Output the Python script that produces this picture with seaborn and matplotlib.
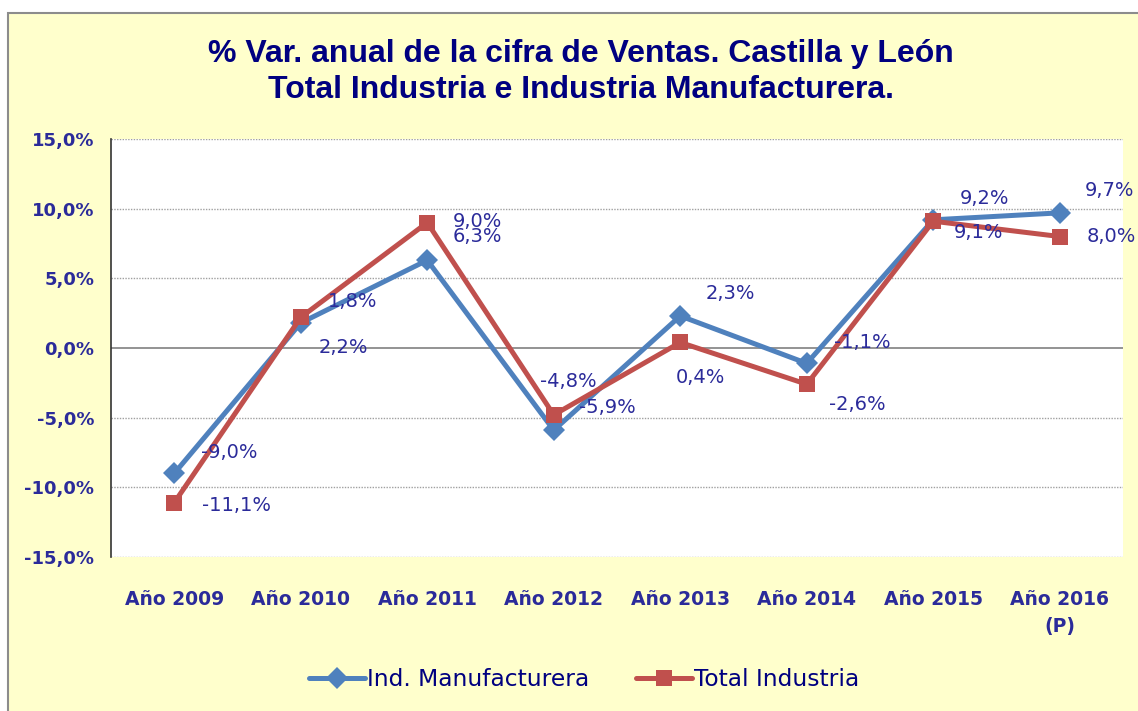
import numpy as np
import pandas as pd
import seaborn as sns
import matplotlib.pyplot as plt
from matplotlib.patches import Rectangle

years = ["Año 2009", "Año 2010", "Año 2011", "Año 2012",
         "Año 2013", "Año 2014", "Año 2015", "Año 2016\n(P)"]
manufacturera = [-9.0, 1.8, 6.3, -5.9, 2.3, -1.1, 9.2, 9.7]
total = [-11.1, 2.2, 9.0, -4.8, 0.4, -2.6, 9.1, 8.0]
series_names = ["Ind. Manufacturera", "Total Industria"]

# label offsets in pixels (dx right, dy down), as Excel placed them
off_manuf = [(55, -21), (52, -21), (50, -24), (54, -23), (50, -22), (56, -21), (51, -21), (50, -22)]
off_total = [(62, 3), (43, 30), (50, -1), (15, -33), (20, 35), (51, 20), (45, 11), (52, 0)]

df = pd.DataFrame({
    "x": list(range(len(years))) * 2,
    "value": manufacturera + total,
    "serie": [series_names[0]] * len(years) + [series_names[1]] * len(years),
})

sns.set_style("white")
plt.rcParams["font.family"] = ["DejaVu Sans"]

W, H = 1138, 711
fig = plt.figure(figsize=(W / 100, H / 100), dpi=100, facecolor="white")
fig.patches.append(Rectangle((8 / W, -0.1), 1.1, (H - 13) / H + 0.1, transform=fig.transFigure,
                             facecolor="#FFFFCC", edgecolor="#8C8C8C", lw=1.5, zorder=-10))

ax = fig.add_axes([111 / W, 1 - 557 / H, (1123 - 111) / W, (557 - 139) / H])
ax.set_facecolor("white")

navy = "#000080"
lab = "#2B2B9A"
colors = {series_names[0]: "#4F81BD", series_names[1]: "#C0504D"}
markers = {series_names[0]: "D", series_names[1]: "s"}

for y in [-15, -10, -5, 5, 10, 15]:
    ax.axhline(y, color="#A0A0A0", lw=1, ls=(0, (1, 1)), zorder=0)
ax.axhline(0, color="#808080", lw=1.2, zorder=0)

sns.lineplot(data=df, x="x", y="value", hue="serie", style="serie",
             palette=colors, markers=markers, dashes=False, lw=3.6,
             markersize=11, markeredgewidth=0, ax=ax, legend=False)

for vals, offs in [(manufacturera, off_manuf), (total, off_total)]:
    for i, (v, o) in enumerate(zip(vals, offs)):
        ax.annotate(f"{v:.1f}%".replace(".", ","), (i, v), xytext=(o[0], -o[1]),
                    textcoords="offset pixels", ha="center", va="center",
                    fontsize=14, color=lab)

ax.set_xlim(-0.5, len(years) - 0.5)
ax.set_ylim(-15, 15)
ax.set_yticks(np.arange(-15, 16, 5))
ax.set_yticklabels([f"{t:.1f}%".replace(".", ",") for t in np.arange(-15, 16, 5)])
ax.set_xticks(range(len(years)))
ax.set_xticklabels(years, linespacing=1.5)
ax.tick_params(axis="both", length=0, labelcolor=lab)
ax.tick_params(axis="x", pad=24, labelsize=13.5)
ax.tick_params(axis="y", pad=12, labelsize=13)
for t in ax.get_xticklabels() + ax.get_yticklabels():
    t.set_fontweight("bold")
ax.set_xlabel("")
ax.set_ylabel("")
for s in ["top", "right", "bottom"]:
    ax.spines[s].set_visible(False)
ax.spines["left"].set_color("#333333")
ax.spines["left"].set_linestyle((0, (2, 1)))
ax.spines["left"].set_linewidth(1.2)

fig.text(581 / W, 1 - 72 / H, "% Var. anual de la cifra de Ventas. Castilla y León\nTotal Industria e Industria Manufacturera.",
         ha="center", va="center", fontsize=23, fontweight="bold", color=navy,
         family="Liberation Sans", linespacing=1.25)

handles = [plt.Line2D([], [], color=colors[n], marker=markers[n], lw=3.6, markersize=11,
                      markeredgewidth=0) for n in series_names]
fig.legend(handles, series_names, loc="center", bbox_to_anchor=(584 / W, 1 - 680 / H),
           ncol=2, frameon=False, fontsize=16.8, labelcolor=navy, handlelength=2.4,
           handletextpad=0.1, columnspacing=2.0)

fig.savefig("out.png", dpi=100, facecolor=fig.get_facecolor())
